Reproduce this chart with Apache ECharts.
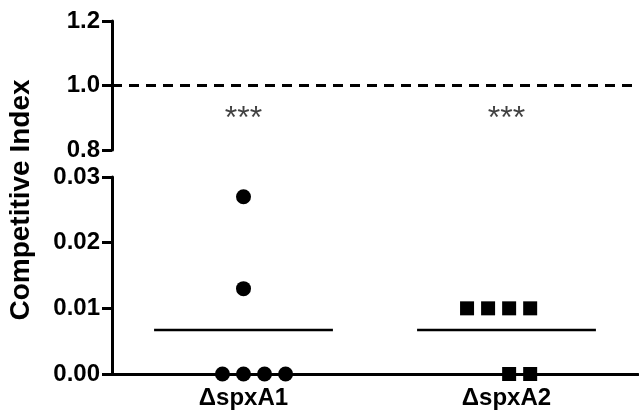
<!DOCTYPE html>
<html lang="en">
<head>
	<meta charset="UTF-8">
	<title>Competitive Index</title>
	<script src="https://cdn.jsdelivr.net/npm/echarts@6/dist/echarts.min.js" type="text/javascript"></script>
	<style>
		html, body { margin: 0; padding: 0; background: #fff; }
	</style>
</head>
<body>
	<div id="main" style="width: 639px;height:419px;"></div>

<script type="text/javascript">
// categories and data
var categories = ['\u0394spxA1', '\u0394spxA2'];
// spread positions on the hidden value axis (0..2, category centers at 0.5 and 1.5)
var spxA1X = [0.5, 0.5, 0.42, 0.5, 0.58, 0.66];
var spxA1Y = [0.027, 0.013, 0, 0, 0, 0];
var spxA2X = [1.35, 1.43, 1.51, 1.59, 1.51, 1.59];
var spxA2Y = [0.01, 0.01, 0.01, 0.01, 0, 0];
var meanValues = [0.0067, 0.0067];
var starLabels = ['***', '***'];
var starY = 0.895;
var refLine = 1.0;
var topTicks = [0.8, 1.2, 0.2];
var bottomTicks = [0, 0.03, 0.01];

var font = 'Liberation Sans, Arial, sans-serif';

function pairs(xs, ys) {
	var out = [];
	for (var i = 0; i < xs.length; i++) out.push([xs[i], ys[i]]);
	return out;
}

var meanSeries = [];
for (var i = 0; i < meanValues.length; i++) {
	var c = i + 0.5;
	meanSeries.push({
		type: 'line',
		xAxisIndex: 2,
		yAxisIndex: 1,
		symbol: 'none',
		silent: true,
		lineStyle: { color: '#000', width: 2.5 },
		data: [[c - 0.34, meanValues[i]], [c + 0.34, meanValues[i]]]
	});
}

var mychart = echarts.init(document.getElementById('main'));

var axisLineStyle = { color: '#000', width: 3 };

option = {
	animation: false,
	grid: [
		{ left: 112, right: 1, top: 21, height: 129 },
		{ left: 112, right: 1, top: 177, height: 197 }
	],
	xAxis: [
		{ type: 'value', gridIndex: 0, min: 0, max: 2, show: false },
		{
			type: 'category',
			gridIndex: 1,
			data: categories,
			axisLine: { lineStyle: axisLineStyle },
			axisTick: { alignWithLabel: true, length: 6, lineStyle: { color: '#000', width: 3 } },
			axisLabel: { color: '#000', fontWeight: 'bold', fontSize: 24, fontFamily: font, margin: 12 }
		},
		{ type: 'value', gridIndex: 1, min: 0, max: 2, show: false }
	],
	yAxis: [
		{
			type: 'value',
			gridIndex: 0,
			min: topTicks[0],
			max: topTicks[1],
			interval: topTicks[2],
			splitLine: { show: false },
			axisLine: { show: true, lineStyle: axisLineStyle },
			axisTick: { show: true, length: 10, lineStyle: { color: '#000', width: 3 } },
			axisLabel: {
				color: '#000', fontWeight: 'bold', fontSize: 24, fontFamily: font, margin: 12,
				formatter: function (v) { return v.toFixed(1); }
			}
		},
		{
			type: 'value',
			gridIndex: 1,
			min: bottomTicks[0],
			max: bottomTicks[1],
			interval: bottomTicks[2],
			splitLine: { show: false },
			axisLine: { show: true, lineStyle: axisLineStyle },
			axisTick: { show: true, length: 10, lineStyle: { color: '#000', width: 3 } },
			axisLabel: {
				color: '#000', fontWeight: 'bold', fontSize: 24, fontFamily: font, margin: 12,
				formatter: function (v) { return v.toFixed(2); }
			}
		}
	],
	graphic: [{
		type: 'text',
		x: 21,
		y: 200,
		rotation: Math.PI / 2,
		style: {
			text: 'Competitive Index',
			fill: '#000',
			font: 'bold 28px ' + font,
			textAlign: 'center',
			textVerticalAlign: 'middle'
		}
	}],
	series: [
		{
			type: 'scatter',
			xAxisIndex: 0,
			yAxisIndex: 0,
			symbolSize: 0,
			silent: true,
			data: [[0.5, starY], [1.5, starY]],
			label: {
				show: true,
				position: 'inside',
				color: '#111',
				fontSize: 32,
				fontFamily: font,
				formatter: function (p) { return starLabels[p.dataIndex]; }
			},
			markLine: {
				silent: true,
				symbol: 'none',
				label: { show: false },
				lineStyle: { color: '#000', width: 3, type: [10, 7] },
				data: [{ yAxis: refLine }]
			}
		},
		{
			type: 'scatter',
			xAxisIndex: 2,
			yAxisIndex: 1,
			symbol: 'circle',
			symbolSize: 15,
			itemStyle: { color: '#000', opacity: 1 },
			data: pairs(spxA1X, spxA1Y)
		},
		{
			type: 'scatter',
			xAxisIndex: 2,
			yAxisIndex: 1,
			symbol: 'rect',
			symbolSize: 14,
			itemStyle: { color: '#000', opacity: 1 },
			data: pairs(spxA2X, spxA2Y)
		}
	].concat(meanSeries)
};
mychart.setOption(option);
</script>
</body>
</html>
